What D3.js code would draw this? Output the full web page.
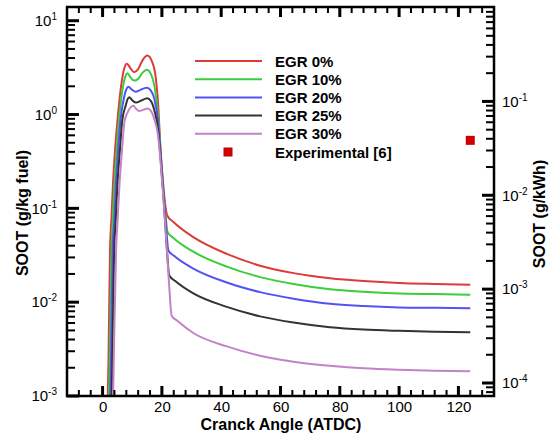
<!DOCTYPE html>
<html>
<head>
<meta charset="utf-8">
<script src="https://cdn.jsdelivr.net/npm/d3@7"></script>
<style>
body { margin: 0; background: #fff; }
text { font-family: "Liberation Sans", Arial, sans-serif; }
</style>
</head>
<body>
<div id="chart"></div>
<script>
// series: crank angle (deg ATDC) and soot (g/kg fuel)
const seriesNames = ["EGR 0%", "EGR 10%", "EGR 20%", "EGR 25%", "EGR 30%"];
const seriesColors = ["#dd3a3a", "#3ccc3c", "#5252f5", "#333333", "#c283c8"];

const angle0 = [1.75, 2.0, 2.5, 3.0, 3.5, 4.2, 5.0, 6.5, 7.3, 8.2, 9.3, 10.6, 12.0, 13.5, 15.1, 16.6, 17.7, 18.8, 19.5, 20.5, 21.3, 21.8, 23.9, 30.6, 41.9, 53.1, 64.4, 76.7, 88, 100, 112, 124];
const soot0  = [0.001, 0.0025, 0.035, 0.08, 0.18, 0.42, 0.85, 2.3, 3.1, 3.47, 3.15, 2.83, 3.05, 3.8, 4.26, 3.7, 2.8, 1.2, 0.45, 0.17, 0.1, 0.084, 0.0714, 0.0493, 0.0327, 0.0245, 0.0204, 0.018, 0.0168, 0.016, 0.0156, 0.0153];

const angle10 = [2.15, 2.4, 3.0, 3.4, 4.0, 4.7, 5.5, 6.9, 7.6, 8.4, 9.4, 10.6, 12.0, 13.5, 14.9, 16.3, 17.5, 18.7, 19.5, 20.5, 21.3, 21.9, 23.9, 30.6, 41.9, 53.1, 64.4, 76.7, 88, 100, 112, 124];
const soot10  = [0.001, 0.0025, 0.035, 0.07, 0.18, 0.4, 0.85, 2.0, 2.5, 2.75, 2.5, 2.3, 2.4, 2.8, 3.0, 2.7, 2.0, 1.0, 0.42, 0.16, 0.08, 0.056, 0.0482, 0.0345, 0.0239, 0.0185, 0.0156, 0.0137, 0.0129, 0.0124, 0.0122, 0.012];

const angle20 = [2.6, 2.85, 3.4, 3.9, 4.5, 5.2, 6.0, 7.3, 8.0, 8.7, 9.8, 11.2, 12.6, 14.9, 16.3, 17.5, 18.7, 19.5, 20.5, 21.4, 22.2, 24.2, 30.6, 41.9, 53.1, 64.4, 76.7, 88, 100, 112, 124];
const soot20  = [0.001, 0.0025, 0.035, 0.07, 0.18, 0.4, 0.85, 1.55, 1.85, 1.98, 1.85, 1.75, 1.82, 1.93, 1.8, 1.45, 0.85, 0.4, 0.15, 0.065, 0.0356, 0.031, 0.0228, 0.0162, 0.0128, 0.0109, 0.0096, 0.0091, 0.0088, 0.0087, 0.0086];

const angle25 = [3.05, 3.3, 3.9, 4.4, 5.0, 5.8, 6.6, 7.8, 8.4, 9.0, 10.0, 11.3, 12.8, 15.1, 16.4, 17.5, 18.7, 19.5, 20.5, 21.5, 22.5, 24.5, 30.6, 41.9, 53.1, 64.4, 76.7, 88, 100, 112, 124];
const soot25  = [0.001, 0.0025, 0.035, 0.07, 0.18, 0.4, 0.85, 1.25, 1.45, 1.53, 1.42, 1.34, 1.4, 1.49, 1.38, 1.1, 0.7, 0.36, 0.14, 0.045, 0.0192, 0.0168, 0.0124, 0.00891, 0.00706, 0.00607, 0.0054, 0.0051, 0.00495, 0.00485, 0.00479];

const angle30 = [3.55, 3.9, 4.55, 5.1, 5.7, 6.5, 7.4, 8.6, 9.5, 10.4, 11.3, 12.4, 13.6, 15.1, 16.4, 17.5, 18.7, 19.5, 20.5, 21.5, 22.4, 23.3, 25.3, 30.6, 41.9, 53.1, 64.4, 76.7, 88, 100, 112, 124];
const soot30  = [0.001, 0.004, 0.035, 0.08, 0.18, 0.4, 0.85, 1.08, 1.2, 1.24, 1.15, 1.09, 1.12, 1.16, 1.08, 0.88, 0.6, 0.33, 0.13, 0.045, 0.016, 0.00718, 0.0063, 0.00469, 0.00338, 0.00269, 0.00232, 0.0021, 0.00197, 0.0019, 0.00186, 0.00184];

// experimental point (right axis, g/kWh)
const expAngle = [124];
const expSoot = [0.0385];

const xTicks = [0, 20, 40, 60, 80, 100, 120];

const angles = [angle0, angle10, angle20, angle25, angle30];
const soots = [soot0, soot10, soot20, soot25, soot30];

const W = 549, H = 435;
const margin = {top: 7, right: 55, bottom: 39, left: 67};
const width = W - margin.left - margin.right,
      height = H - margin.top - margin.bottom;

const svg = d3.select("#chart").append("svg")
  .attr("width", W).attr("height", H);

const x = d3.scaleLinear().domain([-12, 132]).range([margin.left, margin.left + width]);
const yL = d3.scaleLog().domain([1e-3, 14]).range([margin.top + height, margin.top]);
const yR = d3.scaleLog().domain([7.27e-5, 1.014]).range([margin.top + height, margin.top]);

const x0 = margin.left, x1 = margin.left + width, y0 = margin.top, y1 = margin.top + height;

svg.append("clipPath").attr("id", "clip")
  .append("rect").attr("x", x0).attr("y", y0).attr("width", width).attr("height", height);

const line = d3.line()
  .x(d => x(d[0])).y(d => yL(d[1]))
  .curve(d3.curveMonotoneX);

const lines = svg.append("g").attr("clip-path", "url(#clip)");
seriesNames.forEach((name, i) => {
  lines.append("path")
    .datum(d3.zip(angles[i], soots[i]))
    .attr("d", line)
    .attr("fill", "none")
    .attr("stroke", seriesColors[i])
    .attr("stroke-width", 2);
});

// experimental marker
svg.selectAll(".exp").data(d3.zip(expAngle, expSoot)).join("rect")
  .attr("class", "exp")
  .attr("x", d => x(d[0]) - 4.5).attr("y", d => yR(d[1]) - 4.5)
  .attr("width", 9).attr("height", 9).attr("fill", "#cc0000");

function sup(sel) {
  sel.each(function(d) {
    const t = d3.select(this), e = Math.round(Math.log10(d));
    t.text("10");
    t.append("tspan").attr("dy", "-0.6em").attr("font-size", "10px").text(e);
  });
}

function isMajor(d) { return Math.abs(Math.log10(d) - Math.round(Math.log10(d))) < 1e-6; }

const leftMajor = yL.ticks().filter(isMajor);
const leftMinor = yL.ticks().filter(d => !isMajor(d));
const rightMajor = yR.ticks().filter(d => isMajor(d) && d < 0.5);
const rightMinor = yR.ticks().filter(d => !isMajor(d));
const xMinor = d3.range(-8, 132, 4).filter(v => v % 20 !== 0);

// tick labels through d3 axes (no tick lines)
const gl = svg.append("g").attr("transform", `translate(${x0},0)`)
  .call(d3.axisLeft(yL).tickValues(leftMajor).tickSize(0).tickPadding(10))
  .call(g => g.select(".domain").remove());
gl.selectAll("line").remove();
gl.selectAll("text").attr("font-size", 15).attr("fill", "#000").call(sup);

const gr = svg.append("g").attr("transform", `translate(${x1},0)`)
  .call(d3.axisRight(yR).tickValues(rightMajor).tickSize(0).tickPadding(8))
  .call(g => g.select(".domain").remove());
gr.selectAll("line").remove();
gr.selectAll("text").attr("font-size", 15).attr("fill", "#000").call(sup);

const gb = svg.append("g").attr("transform", `translate(0,${y1})`)
  .call(d3.axisBottom(x).tickValues(xTicks).tickSize(0).tickPadding(5))
  .call(g => g.select(".domain").remove());
gb.selectAll("line").remove();
gb.selectAll("text").attr("font-size", 15).attr("fill", "#000");

// frame
svg.append("rect")
  .attr("x", x0).attr("y", y0).attr("width", width).attr("height", height)
  .attr("fill", "none").attr("stroke", "#000").attr("stroke-width", 2.5);

// tick marks drawn inward from the frame, on top of everything
const tg = svg.append("g").attr("class", "ticks");
function hTicks(xpos, scale, values, len, t) {
  tg.selectAll(null).data(values).enter().append("rect")
    .attr("x", len > 0 ? xpos : xpos + len)
    .attr("y", d => scale(d) - t / 2)
    .attr("width", Math.abs(len)).attr("height", t)
    .attr("fill", "#000");
}
function vTicks(ypos, values, len, t) {
  tg.selectAll(null).data(values).enter().append("rect")
    .attr("x", d => x(d) - t / 2)
    .attr("y", len > 0 ? ypos : ypos + len)
    .attr("width", t).attr("height", Math.abs(len))
    .attr("fill", "#000");
}
hTicks(x0, yL, leftMinor, 8, 2);
hTicks(x0, yL, leftMajor, 12, 3);
hTicks(x1, yR, rightMinor, -8, 2);
hTicks(x1, yR, rightMajor, -12, 3);
vTicks(y1, xMinor, -6, 2);
vTicks(y1, xTicks, -10, 3);
vTicks(y0, xMinor, 6, 2);
vTicks(y0, xTicks, 10, 3);

// axis titles
svg.append("text")
  .attr("x", 281).attr("y", 429.5)
  .attr("text-anchor", "middle").attr("font-size", 16).attr("font-weight", "bold")
  .text("Cranck Angle (ATDC)");
svg.append("text")
  .attr("transform", "translate(28,213) rotate(-90)")
  .attr("text-anchor", "middle").attr("font-size", 16).attr("font-weight", "bold")
  .text("SOOT (g/kg fuel)");
svg.append("text")
  .attr("transform", "translate(545,214) rotate(-90)")
  .attr("text-anchor", "middle").attr("font-size", 16).attr("font-weight", "bold")
  .text("SOOT (g/kWh)");

// legend
const legend = svg.append("g");
seriesNames.forEach((name, i) => {
  const ly = 61 + i * 18.2;
  legend.append("line")
    .attr("x1", 195).attr("x2", 262).attr("y1", ly).attr("y2", ly)
    .attr("stroke", seriesColors[i]).attr("stroke-width", 2);
  legend.append("text")
    .attr("x", 275).attr("y", ly + 5.5)
    .attr("font-size", 15).attr("font-weight", "bold")
    .text(name);
});
const ey = 61 + 5 * 18.2;
legend.append("rect")
  .attr("x", 228 - 4.5).attr("y", ey - 4.5).attr("width", 9).attr("height", 9)
  .attr("fill", "#cc0000");
legend.append("text")
  .attr("x", 275).attr("y", ey + 5.5)
  .attr("font-size", 15).attr("font-weight", "bold")
  .text("Experimental [6]");
</script>
</body>
</html>
